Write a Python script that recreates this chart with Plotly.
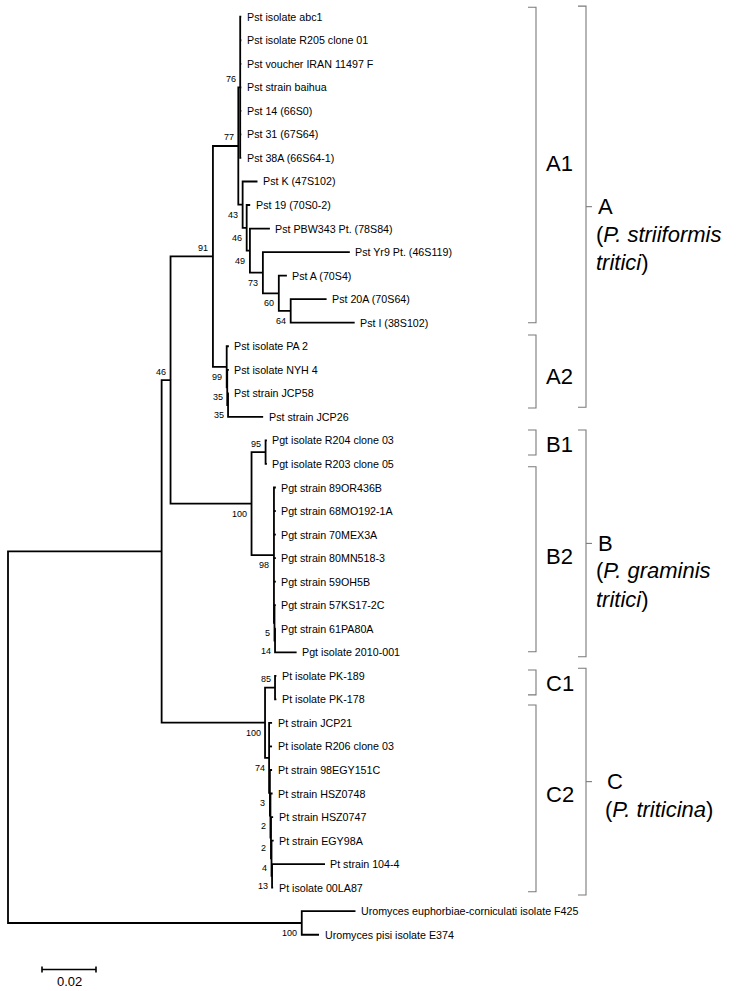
import plotly.graph_objects as go

# ---------------- data ----------------
leaf_names = [
    "Pst isolate abc1", "Pst isolate R205 clone 01", "Pst voucher IRAN 11497 F",
    "Pst strain baihua", "Pst 14 (66S0)", "Pst 31 (67S64)", "Pst 38A (66S64-1)",
    "Pst K (47S102)", "Pst 19 (70S0-2)", "Pst PBW343 Pt. (78S84)",
    "Pst Yr9 Pt. (46S119)", "Pst A (70S4)", "Pst 20A (70S64)", "Pst I (38S102)",
    "Pst isolate PA 2", "Pst isolate NYH 4", "Pst strain JCP58", "Pst strain JCP26",
    "Pgt isolate R204 clone 03", "Pgt isolate R203 clone 05",
    "Pgt strain 89OR436B", "Pgt strain 68MO192-1A", "Pgt strain 70MEX3A",
    "Pgt strain 80MN518-3", "Pgt strain 59OH5B", "Pgt strain 57KS17-2C",
    "Pgt strain 61PA80A", "Pgt isolate 2010-001",
    "Pt isolate PK-189", "Pt isolate PK-178", "Pt strain JCP21",
    "Pt isolate R206 clone 03", "Pt strain 98EGY151C", "Pt strain HSZ0748",
    "Pt strain HSZ0747", "Pt strain EGY98A", "Pt strain 104-4", "Pt isolate 00LA87",
    "Uromyces euphorbiae-corniculati isolate F425", "Uromyces pisi isolate E374",
]
leaf_parent = (["A1a"] * 7 +
               ["A1b", "n46", "n49", "n73", "n60", "n64", "n64"] +
               ["A2", "n35a", "n35b", "n35b"] +
               ["B1", "B1"] + ["B2"] * 5 + ["n5", "n14", "n14"] +
               ["C1", "C1", "C2", "C2", "n3", "n2a", "n2b", "n4", "n13", "n13"] +
               ["U", "U"])
leaf_length = ([0.0004] * 7 +
               [0.0055, 0.0013, 0.0074, 0.0322, 0.0030, 0.0133, 0.0237] +
               [0.0008, 0.0006, 0.0003, 0.0130] +
               [0.0005, 0.0005] + [0.0007] * 5 + [0.0005, 0.0003, 0.0080] +
               [0.0005, 0.0005, 0.0011, 0.0011, 0.0008, 0.0008, 0.0008, 0.0008,
                0.0196, 0.0004] +
               [0.0199, 0.0064])

node_ids = ["root", "ING", "AB", "A", "A1", "A1a", "A1b", "n46", "n49", "n73",
            "n60", "n64", "A2", "n35a", "n35b", "B", "B1", "B2", "n5", "n14",
            "C", "C1", "C2", "n3", "n2a", "n2b", "n4", "n13", "U"]
node_parent = [None, "root", "ING", "AB", "A", "A1", "A1", "A1b", "n46", "n49",
               "n73", "n60", "A", "A2", "n35a", "AB", "B", "B", "B2", "n5",
               "ING", "C", "C", "C2", "n3", "n2a", "n2b", "n4", "root"]
node_length = [0.0, 0.0569, 0.0033, 0.0157, 0.0094, 0.0007, 0.0016, 0.0015,
               0.0012, 0.0048, 0.0059, 0.0044, 0.0051, 0.0002, 0.0003, 0.0300,
               0.0052, 0.0083, 0.0002, 0.0002, 0.0383, 0.0037, 0.0015, 0.0003,
               0.0002, 0.0002, 0.0002, 0.0002, 0.1088]
node_support = [None, None, 46, 91, 77, 76, 43, 46, 49, 73, 60, 64, 99, 35, 35,
                100, 95, 98, 5, 14, 100, 85, 74, 3, 2, 2, 4, 13, 100]
support_above = ["AB", "A", "A1", "A1a", "B1", "C1"]

scale_length = 0.02
scale_label = "0.02"

# clade brackets: (label, top row, bottom row, label row)
sub_clades = [("A1", -0.40, 13.0, 6.23), ("A2", 13.52, 16.62, 15.29),
              ("B1", 17.56, 18.62, 18.19), ("B2", 19.12, 26.98, 22.94),
              ("C1", 27.75, 28.81, 28.32), ("C2", 29.24, 37.17, 33.06)]
main_clades = [("A", -0.45, 16.59, ["(<i>P. striiformis</i>", "<i>tritici</i>)"]),
               ("B", 17.56, 27.19, ["(<i>P. graminis</i>", "<i>tritici</i>)"]),
               ("C", 27.68, 37.31, ["(<i>P. triticina</i>)"])]

# ---------------- geometry helpers ----------------
PXU = 2700.0      # pixels per substitution unit
X0 = 8.0          # pixel column of root
ROW0, ROWH = 16.7, 23.54


def px_x(p):
    return (p - X0) / PXU


def px_y(p):
    return (p - ROW0) / ROWH


FONT = "Arial, 'Liberation Sans', sans-serif"

# ---------------- build tree ----------------
depth = {}
for nid, par, ln in zip(node_ids, node_parent, node_length):
    depth[nid] = 0.0 if par is None else depth[par] + ln

children = {nid: [] for nid in node_ids}
for nid, par in zip(node_ids, node_parent):
    if par is not None:
        children[par].append(("n", nid))
ypos = {}
xpos = dict(depth)
for i, (name, par, ln) in enumerate(zip(leaf_names, leaf_parent, leaf_length)):
    key = "leaf%d" % i
    children[par].append(("l", key))
    ypos[key] = i
    xpos[key] = depth[par] + ln

for nid in reversed(node_ids):
    ys = [ypos[c[1]] for c in children[nid]]
    ypos[nid] = (min(ys) + max(ys)) / 2.0

lx, ly = [], []
for nid in node_ids:
    ch = sorted([c[1] for c in children[nid]], key=lambda k: ypos[k])
    first, last = ch[0], ch[-1]
    px_ = xpos[nid]
    lx += [xpos[first], px_, px_, xpos[last], None]
    ly += [ypos[first], ypos[first], ypos[last], ypos[last], None]
    for mid in ch[1:-1]:
        lx += [px_, xpos[mid], None]
        ly += [ypos[mid], ypos[mid], None]

fig = go.Figure()
fig.add_trace(go.Scatter(x=lx, y=ly, mode="lines",
                         line=dict(color="#000000", width=1.8),
                         hoverinfo="skip", showlegend=False))

annotations = []
for i, name in enumerate(leaf_names):
    key = "leaf%d" % i
    annotations.append(dict(x=xpos[key], y=ypos[key], text=name, showarrow=False,
                            xanchor="left", yanchor="middle", xshift=3.5,
                            font=dict(family=FONT, size=10.7, color="#000")))
for nid, sup in zip(node_ids, node_support):
    if sup is None:
        continue
    above = nid in support_above
    annotations.append(dict(x=xpos[nid], y=ypos[nid], text=str(sup), showarrow=False,
                            xanchor="right", yanchor="middle", xshift=-2.5,
                            yshift=8.5 if above else -10,
                            font=dict(family=FONT, size=9, color="#000")))

# scale bar
sb_x0 = px_x(42)
sb_y = px_y(969.5)
tick = 0.13
fig.add_trace(go.Scatter(
    x=[sb_x0, sb_x0 + scale_length, None, sb_x0, sb_x0, None,
       sb_x0 + scale_length, sb_x0 + scale_length],
    y=[sb_y, sb_y, None, sb_y - tick, sb_y + tick, None, sb_y - tick, sb_y + tick],
    mode="lines", line=dict(color="#000", width=1.6),
    hoverinfo="skip", showlegend=False))
annotations.append(dict(x=sb_x0 + scale_length / 2, y=px_y(981), text=scale_label,
                        showarrow=False, xanchor="center", yanchor="middle",
                        font=dict(family=FONT, size=13, color="#000")))

# brackets
bx, by = [], []
for lab, top, bot, ty in sub_clades:
    bx += [px_x(528), px_x(536), px_x(536), px_x(528), None]
    by += [top, top, bot, bot, None]
    annotations.append(dict(x=px_x(544), y=ty, text=lab, showarrow=False,
                            xanchor="left", yanchor="middle",
                            font=dict(family=FONT, size=22, color="#000")))
for lab, top, bot, lines in main_clades:
    mid = (top + bot) / 2
    bx += [px_x(578), px_x(586), px_x(586), px_x(578), None,
           px_x(586), px_x(592), None]
    by += [top, top, bot, bot, None, mid, mid, None]
    tx = px_x(603) if lab == "C" else px_x(594)
    annotations.append(dict(x=tx, y=mid, text=lab, showarrow=False,
                            xanchor="left", yanchor="middle", xshift=2,
                            font=dict(family=FONT, size=22, color="#000")))
    for k, t in enumerate(lines):
        annotations.append(dict(x=tx, y=mid + 1.17 + 1.22 * k, text=t, showarrow=False,
                                xanchor="left", yanchor="middle",
                                font=dict(family=FONT, size=22, color="#000")))
fig.add_trace(go.Scatter(x=bx, y=by, mode="lines",
                         line=dict(color="#7a7a7a", width=1.1),
                         hoverinfo="skip", showlegend=False))

fig.update_layout(
    width=743, height=991,
    margin=dict(l=0, r=0, t=0, b=0),
    paper_bgcolor="white", plot_bgcolor="white",
    xaxis=dict(range=[px_x(0), px_x(743)], visible=False, fixedrange=True),
    yaxis=dict(range=[px_y(991), px_y(0)], visible=False, fixedrange=True),
    annotations=annotations,
    showlegend=False,
)

fig.write_html("out.html",
               config={"displayModeBar": False, "staticPlot": True},
               post_script="document.body.style.margin='0px';"
                           "document.body.style.padding='0px';"
                           "document.body.style.overflow='hidden';")
